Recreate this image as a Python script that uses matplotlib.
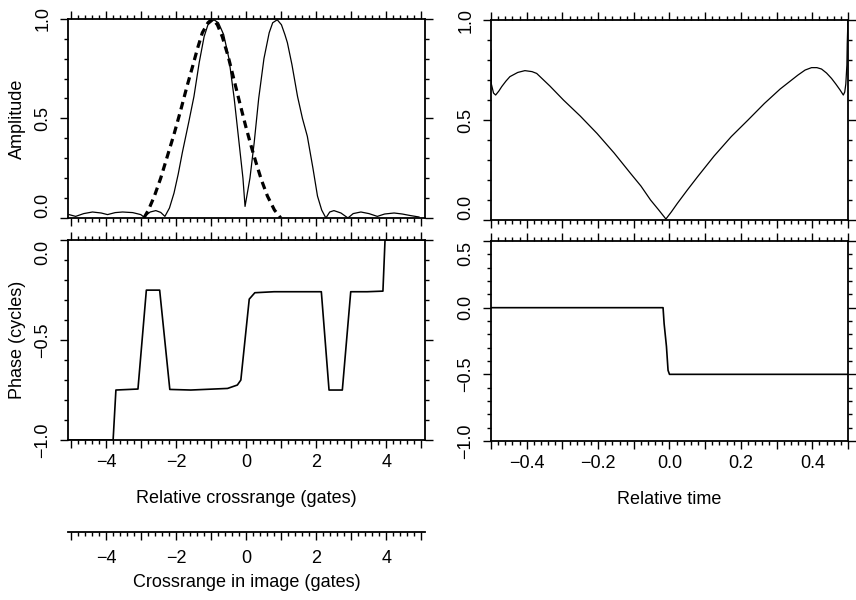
import matplotlib
matplotlib.use("Agg")
from matplotlib import pyplot as plt
from matplotlib.ticker import MultipleLocator, FuncFormatter

plt.rcParams['font.family'] = ['Liberation Sans Narrow', 'Liberation Sans', 'DejaVu Sans']
plt.rcParams['font.size'] = 13

# amplitude vs relative crossrange (solid = measured, dashed = reference beam)
amp_x = [-5.07, -4.88, -4.65, -4.4, -4.15, -3.97, -3.75, -3.54, -3.25, -3.02, -2.93, -2.75,
         -2.59, -2.45, -2.33, -2.2, -2.07, -1.95, -1.83, -1.65, -1.5, -1.35, -1.21, -1.1,
         -0.93, -0.8, -0.65, -0.5, -0.35, -0.21, -0.1, -0.04, 0.1, 0.22, 0.35, 0.5, 0.65,
         0.75, 0.88, 1.0, 1.1, 1.17, 1.3, 1.46, 1.6, 1.74, 1.9, 2.03, 2.15, 2.27, 2.38,
         2.5, 2.7, 2.9, 3.05, 3.27, 3.5, 3.74, 3.95, 4.22, 4.45, 4.69, 4.93]
amp_y = [0.017, 0.008, 0.022, 0.03, 0.025, 0.017, 0.027, 0.03, 0.027, 0.017, 0.005, 0.03,
         0.037, 0.028, 0.008, 0.05, 0.125, 0.22, 0.33, 0.48, 0.61, 0.78, 0.91, 0.97,
         0.995, 0.98, 0.92, 0.8, 0.6, 0.376, 0.2, 0.058, 0.2, 0.376, 0.6, 0.8, 0.93,
         0.98, 0.995, 0.97, 0.92, 0.88, 0.77, 0.61, 0.5, 0.41, 0.25, 0.11, 0.04, 0.0, 0.03,
         0.037, 0.025, 0.0, 0.022, 0.03, 0.022, 0.008, 0.02, 0.025, 0.02, 0.012, 0.005]
beam_x = [-2.93, -2.8, -2.63, -2.45, -2.26, -2.07, -1.88, -1.7, -1.54, -1.4, -1.26, -1.1,
          -0.97, -0.83, -0.69, -0.52, -0.35, -0.18, -0.02, 0.12, 0.27, 0.43, 0.6, 0.8, 0.98]
beam_y = [0.0, 0.04, 0.11, 0.2, 0.31, 0.42, 0.54, 0.66, 0.76, 0.85, 0.93, 0.98,
          1.0, 0.97, 0.91, 0.81, 0.69, 0.57, 0.46, 0.37, 0.28, 0.19, 0.11, 0.04, 0.0]

# phase vs relative crossrange
ph_x = [-5.1, -3.81, -3.73, -3.1, -2.86, -2.48, -2.19, -1.59, -0.54, -0.26, -0.16, 0.08,
        0.24, 0.79, 2.14, 2.36, 2.74, 2.98, 3.45, 3.9, 3.96, 5.1]
ph_y = [-1.0, -1.0, -0.75, -0.745, -0.25, -0.25, -0.747, -0.75, -0.742, -0.725, -0.70, -0.295,
        -0.263, -0.258, -0.258, -0.75, -0.75, -0.258, -0.258, -0.255, 0.0, 0.0]

# amplitude vs relative time
t_x = [-0.5, -0.499, -0.493, -0.487, -0.478, -0.47, -0.458, -0.447, -0.425, -0.405, -0.385,
       -0.372, -0.335, -0.297, -0.25, -0.203, -0.155, -0.109, -0.08, -0.053, -0.03, -0.01,
       0.005, 0.022, 0.05, 0.079, 0.125, 0.173, 0.22, 0.266, 0.31, 0.36, 0.38, 0.398, 0.413,
       0.426, 0.44, 0.454, 0.466, 0.478, 0.487, 0.491, 0.494, 0.497, 0.498, 0.5]
t_y = [0.85, 0.68, 0.635, 0.625, 0.645, 0.667, 0.695, 0.717, 0.738, 0.747, 0.742,
       0.733, 0.67, 0.6, 0.52, 0.433, 0.335, 0.233, 0.17, 0.1, 0.05, 0.005,
       0.04, 0.083, 0.15, 0.217, 0.32, 0.417, 0.5, 0.583, 0.655, 0.725, 0.75, 0.762, 0.762,
       0.755, 0.735, 0.708, 0.68, 0.65, 0.625, 0.64, 0.68, 0.775, 0.883, 1.0]

# phase vs relative time
tp_x = [-0.5, -0.018, -0.015, -0.0085, -0.004, 0.0, 0.5]
tp_y = [0.0, 0.0, -0.12, -0.29, -0.47, -0.5, -0.5]

# labelled y ticks of each panel
amp_ticks = [0.0, 0.5, 1.0]
phase_ticks = [-1.0, -0.5, 0.0]
tphase_ticks = [-1.0, -0.5, 0.0, 0.5]


def fmt_x(step, decimals):
    def f(v, pos):
        if abs(round(v / step) * step - v) > 1e-6:
            return ""
        s = f"{v:.{decimals}f}"
        if s.startswith("-"):
            if float(s) == 0:
                s = s[1:]
            else:
                s = "\u2212" + s[1:]
        return s
    return FuncFormatter(f)


def fmt_y(v, pos):
    s = f"{v:.1f}"
    if s == "-0.0":
        s = "0.0"
    return s.replace("-", "\u2212")


def style(ax, xlim, yticks, xmaj, xmin, xlab_step, xdec, show_xlabels, edge):
    ax.set_xlim(*xlim)
    ax.set_ylim(yticks[0], yticks[-1])
    ax.xaxis.set_major_locator(MultipleLocator(xmaj))
    ax.xaxis.set_minor_locator(MultipleLocator(xmin))
    ax.set_yticks(yticks)
    ax.yaxis.set_minor_locator(MultipleLocator(0.1))
    ax.xaxis.set_major_formatter(fmt_x(xlab_step, xdec))
    ax.yaxis.set_major_formatter(FuncFormatter(fmt_y))
    ax.tick_params(which="both", direction="out", top=True, right=True, width=1.0)
    ax.tick_params(which="major", length=6)
    ax.tick_params(which="minor", length=3)
    ax.tick_params(axis="x", labelbottom=show_xlabels, pad=4)
    ax.tick_params(axis="y", labelrotation=90, pad=6)
    labs = ax.get_yticklabels()
    for lab in labs:
        lab.set_va("center")
    # keep the end labels of stacked panels from running into each other
    if edge == "bottom":
        labs[0].set_va("bottom")
    elif edge == "top":
        labs[-1].set_va("top")
    for sp in ax.spines.values():
        sp.set_linewidth(1.3)


fig = plt.figure(figsize=(8.56, 6.0), dpi=100)

ax1 = fig.add_axes([0.0794, 0.6367, 0.417, 0.332])
ax1.plot(amp_x, amp_y, color="black", lw=0.9)
ax1.plot(beam_x, beam_y, color="black", lw=2.3, ls=(0, (2.4, 1.6)))
style(ax1, (-5.1, 5.1), amp_ticks, 1, 0.2, 2, 0, False, "bottom")
ax1.set_ylabel("Amplitude", labelpad=6)

ax2 = fig.add_axes([0.0794, 0.2667, 0.417, 0.333])
ax2.plot(ph_x, ph_y, color="black", lw=1.2)
style(ax2, (-5.1, 5.1), phase_ticks, 1, 0.2, 2, 0, True, "top")
ax2.set_ylabel("Phase (cycles)", labelpad=6)
ax2.set_xlabel("Relative crossrange (gates)", labelpad=14)

ax3 = fig.add_axes([0.5736, 0.6333, 0.417, 0.3333])
ax3.plot(t_x, t_y, color="black", lw=0.9)
style(ax3, (-0.5, 0.5), amp_ticks, 0.1, 0.02, 0.2, 1, False, "bottom")

ax4 = fig.add_axes([0.5736, 0.265, 0.417, 0.3333])
ax4.plot(tp_x, tp_y, color="black", lw=1.2)
style(ax4, (-0.5, 0.5), tphase_ticks, 0.1, 0.02, 0.2, 1, True, "top")
ax4.set_xlabel("Relative time", labelpad=14)

# extra crossrange axis below the left panels
ax5 = fig.add_axes([0.0794, 0.1133, 0.417, 0.0001])
ax5.set_xlim(-5.1, 5.1)
ax5.patch.set_alpha(0)
for name in ("left", "right", "top"):
    ax5.spines[name].set_visible(False)
ax5.spines["bottom"].set_linewidth(1.3)
ax5.set_yticks([])
ax5.xaxis.set_major_locator(MultipleLocator(1))
ax5.xaxis.set_minor_locator(MultipleLocator(0.2))
ax5.xaxis.set_major_formatter(fmt_x(2, 0))
ax5.tick_params(which="both", direction="out", width=1.0)
ax5.tick_params(which="major", length=6, pad=7)
ax5.tick_params(which="minor", length=3)
ax5.set_xlabel("Crossrange in image (gates)", labelpad=5)

fig.savefig("out.png", dpi=100)
